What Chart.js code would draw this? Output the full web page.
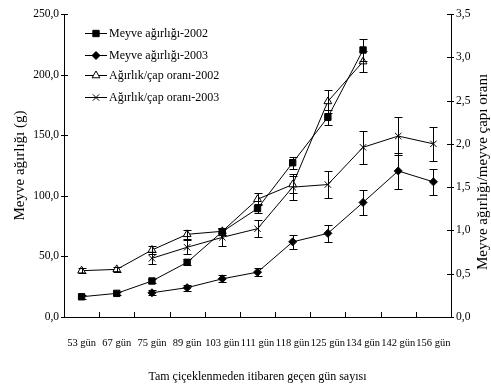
<!DOCTYPE html>
<html><head><meta charset="utf-8">
<script src="https://cdn.jsdelivr.net/npm/chart.js@4.4.0/dist/chart.umd.min.js"></script>
<style>html,body{margin:0;padding:0;background:#fff;}#wrap{width:491px;height:389px;}</style>
</head><body><div id="wrap"><canvas id="c" width="491" height="389"></canvas></div>
<script>
const categories = ['53 gün','67 gün','75 gün','89 gün','103 gün','111 gün','118 gün','125 gün','134 gün','142 gün','156 gün'];
const weight2002 = [16.7, 19.5, 29.7, 45.1, 70.4, 89.5, 127.3, 164.8, 220.3, null, null];
const weight2003 = [null, null, 20.0, 24.2, 31.5, 37.0, 62.0, 69.0, 94.5, 120.5, 111.5];
const ratio2002 = [0.535, 0.55, 0.774, 0.955, 0.99, 1.36, 1.53, 2.49, 2.95, null, null];
const ratio2003 = [null, null, 0.678, 0.805, 0.92, 1.02, 1.50, 1.53, 1.96, 2.09, 2.00];
const errWeight2002 = [1.5, 1.5, 1.5, 2.5, 3, 4, 5, 6, 9, null, null];
const errWeight2003 = [null, null, 2, 2.5, 3, 3.5, 6, 7, 10, 15, 11];
const errRatio2002 = [0.03, 0.03, 0.05, 0.05, 0.04, 0.07, 0.1, 0.13, 0.12, null, null];
const errRatio2003 = [null, null, 0.07, 0.08, 0.1, 0.1, 0.15, 0.16, 0.19, 0.22, 0.2];
const seriesLabels = ['Meyve ağırlığı-2002','Meyve ağırlığı-2003','Ağırlık/çap oranı-2002','Ağırlık/çap oranı-2003'];
const xTitle = 'Tam çiçeklenmeden itibaren geçen gün sayısı';
const yLeftTitle = 'Meyve ağırlığı (g)';
const yRightTitle = 'Meyve ağırlığı/meyve çapı oranı';

const FONT = "'Liberation Serif','Times New Roman',serif";
const fmt = v => Number(v).toFixed(1).replace('.', ',');

function line(ctx, x1, y1, x2, y2){ ctx.moveTo(x1, y1); ctx.lineTo(x2, y2); }

const errorBarPlugin = {
  id: 'errorBars',
  afterDatasetsDraw(chart){
    const ctx = chart.ctx;
    const xs = chart.scales.x;
    ctx.save();
    ctx.strokeStyle = '#000'; ctx.lineWidth = 1;
    chart.data.datasets.forEach(ds => {
      const ys = chart.scales[ds.yAxisID];
      ds.data.forEach((v, i) => {
        const e = ds.errors[i];
        if (v == null || e == null) return;
        const x = Math.round(xs.getPixelForValue(i)) + 0.5;
        const yT = Math.round(ys.getPixelForValue(v + e)) + 0.5;
        const yB = Math.round(ys.getPixelForValue(v - e)) + 0.5;
        ctx.beginPath();
        line(ctx, x, yT, x, yB);
        line(ctx, x - 4, yT, x + 4, yT);
        line(ctx, x - 4, yB, x + 4, yB);
        ctx.stroke();
      });
    });
    ctx.restore();
  }
};

const decorPlugin = {
  id: 'decor',
  afterDraw(chart){
    const ctx = chart.ctx;
    const {x, yL, yR} = chart.scales;
    ctx.save();
    ctx.strokeStyle = '#000'; ctx.lineWidth = 1;
    ctx.beginPath();
    yL.ticks.forEach((t, i) => {
      const y = Math.round(yL.getPixelForTick(i)) + 0.5;
      line(ctx, yL.right - 3, y, yL.right + 4, y);
    });
    yR.ticks.forEach((t, i) => {
      const y = Math.round(yR.getPixelForTick(i)) + 0.5;
      line(ctx, yR.left - 4, y, yR.left + 3, y);
    });
    const n = categories.length;
    for (let i = 1; i < n; i++) {
      const px = Math.round(x.left + (x.right - x.left) * i / n) + 0.5;
      line(ctx, px, x.top, px, x.top - 5);
    }
    ctx.stroke();

    // right axis title, reading bottom to top
    ctx.fillStyle = '#000';
    ctx.font = '15px ' + FONT;
    ctx.textAlign = 'center';
    ctx.textBaseline = 'middle';
    ctx.save();
    ctx.translate(483, 172);
    ctx.rotate(-Math.PI / 2);
    ctx.fillText(yRightTitle, 0, 0);
    ctx.restore();

    // legend inside plot
    const rows = [33, 55, 75, 97];
    ctx.font = '12px ' + FONT;
    ctx.textAlign = 'left';
    chart.data.datasets.forEach((ds, i) => {
      const y = rows[i] + 0.5;
      ctx.strokeStyle = '#000';
      ctx.beginPath();
      line(ctx, 85, y, 107, y);
      ctx.stroke();
      ctx.fillStyle = ds.pointBackgroundColor;
      Chart.helpers.drawPoint(ctx, {pointStyle: ds.pointStyle, radius: ds.pointRadius, borderWidth: 1, rotation: 0}, 96, y);
      ctx.fillStyle = '#000';
      ctx.fillText(seriesLabels[i], 109, rows[i] + 1);
    });
    ctx.restore();
  }
};

function mk(label, data, errs, axis, style, radius, fill){
  return {
    label, data, errors: errs, yAxisID: axis,
    borderColor: '#000', borderWidth: 1, backgroundColor: fill,
    pointStyle: style, pointRadius: radius, pointHoverRadius: radius,
    pointBackgroundColor: fill, pointBorderColor: '#000', pointBorderWidth: 1,
    tension: 0, fill: false, spanGaps: false
  };
}

new Chart(document.getElementById('c'), {
  type: 'line',
  data: {
    labels: categories,
    datasets: [
      mk(seriesLabels[0], weight2002, errWeight2002, 'yL', 'rect', 4.5, '#000'),
      mk(seriesLabels[1], weight2003, errWeight2003, 'yL', 'rectRot', 4, '#000'),
      mk(seriesLabels[2], ratio2002, errRatio2002, 'yR', 'triangle', 4.5, '#fff'),
      mk(seriesLabels[3], ratio2003, errRatio2003, 'yR', 'crossRot', 4.5, '#000')
    ]
  },
  options: {
    responsive: false, animation: false, devicePixelRatio: 1,
    layout: { padding: { top: 14, left: 0, right: 0, bottom: 0 } },
    plugins: { legend: { display: false }, tooltip: { enabled: false }, title: { display: false } },
    scales: {
      x: {
        type: 'category', offset: true,
        grid: { display: false, drawTicks: false },
        border: { display: true, color: '#000', width: 1 },
        ticks: { color: '#000', font: { family: FONT, size: 10.5 }, autoSkip: false, maxRotation: 0, minRotation: 0, padding: 20 },
        title: { display: true, text: xTitle, color: '#000', font: { family: FONT, size: 12 }, padding: { top: 0, bottom: 5 } },
        afterFit(s){ s.height = 72; }
      },
      yL: {
        position: 'left', min: 0, max: 250,
        grid: { display: false, drawTicks: false },
        border: { display: true, color: '#000', width: 1 },
        ticks: { stepSize: 50, color: '#000', font: { family: FONT, size: 11.5 }, padding: 5, callback: v => fmt(v) },
        title: { display: true, text: yLeftTitle, color: '#000', font: { family: FONT, size: 15 }, padding: { top: 11, bottom: 0 } },
        afterFit(s){ s.width = 64; }
      },
      yR: {
        position: 'right', min: 0, max: 3.5,
        grid: { display: false, drawTicks: false },
        border: { display: true, color: '#000', width: 1 },
        ticks: { stepSize: 0.5, color: '#000', font: { family: FONT, size: 11.5 }, padding: 5, callback: v => fmt(v) },
        afterFit(s){ s.width = 40; }
      }
    }
  },
  plugins: [errorBarPlugin, decorPlugin]
});
</script>
</body></html>
